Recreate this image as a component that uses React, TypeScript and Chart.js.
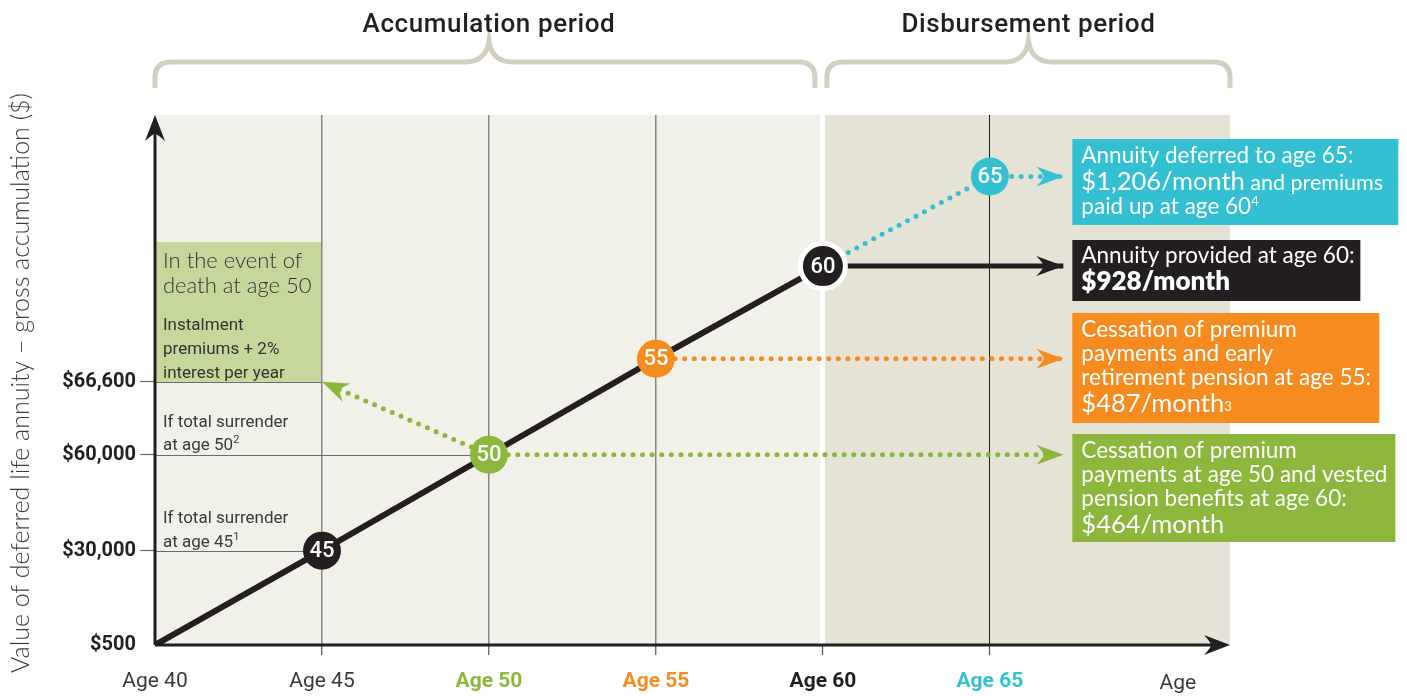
import React, { useEffect, useRef } from 'react';
import { Chart, registerables } from 'chart.js';

Chart.register(...registerables);

// ---------------- data ----------------
const lineAges = [40, 45, 50, 55, 60];
const lineValues = [500, 30000, 60000, 90000, 119000];

const milestoneAges = [45, 50, 55, 60, 65];
const milestoneValues = [30000, 60000, 90000, 119000, 147000];
const milestoneLabels = ['45', '50', '55', '60', '65'];

const xTickValues = [40, 45, 50, 55, 60, 65];
const xTickLabels = ['Age 40', 'Age 45', 'Age 50', 'Age 55', 'Age 60', 'Age 65'];
const yTickValues = [500, 30000, 60000, 82800];
const yTickLabels = ['$500', '$30,000', '$60,000', '$66,600'];

const arrowEndAge = 67.2;
const deathAges = [50, 45];
const deathValues = [60000, 82800];
const vestedAges = [50, arrowEndAge];
const vestedValues = [60000, 60000];
const earlyAges = [55, arrowEndAge];
const earlyValues = [90000, 90000];
const deferredAges = [60, 65, arrowEndAge];
const deferredValues = [119000, 147000, 147000];
const providedAges = [60, arrowEndAge];
const providedValues = [119000, 119000];

const deathBoxTopValue = 126500;
const disbursementStartAge = 60;
const xAxisTitle = 'Age';
const xAxisTitleAge = 70.63;
const yAxisTitle = 'Value of deferred life annuity \u2013 gross accumulation ($)';

// ---------------- styling ----------------
const BLACK = '#231f20';
const GREEN = '#8cb63c';
const ORANGE = '#f68b1f';
const CYAN = '#34c0d3';
const GREY_TXT = '#3a3a3a';
const COND = 'Roboto, "Liberation Sans", sans-serif';
const BODY = 'Lato, "Open Sans", sans-serif';

const milestoneColors = [BLACK, GREEN, ORANGE, BLACK, CYAN];
const xTickColors = [GREY_TXT, GREY_TXT, GREEN, ORANGE, BLACK, CYAN];

const pts = (xs: number[], ys: number[]) => xs.map((x, i) => ({ x, y: ys[i] }));

type Run = { t: string; f: string; dy?: number };

function runs(ctx: CanvasRenderingContext2D, x: number, y: number, list: Run[], color: string) {
  ctx.fillStyle = color;
  ctx.textAlign = 'left';
  ctx.textBaseline = 'alphabetic';
  let cx = x;
  for (const r of list) {
    ctx.font = r.f;
    ctx.fillText(r.t, cx, y + (r.dy || 0));
    cx += ctx.measureText(r.t).width;
  }
}

function arrowHead(ctx: CanvasRenderingContext2D, x: number, y: number, ang: number, len: number, hw: number, color: string) {
  ctx.save();
  ctx.translate(x, y);
  ctx.rotate(ang);
  ctx.beginPath();
  ctx.moveTo(0, 0);
  ctx.lineTo(-len, -hw);
  ctx.quadraticCurveTo(-len * 0.75, -hw * 0.3, -len * 0.72, 0);
  ctx.quadraticCurveTo(-len * 0.75, hw * 0.3, -len, hw);
  ctx.closePath();
  ctx.fillStyle = color;
  ctx.fill();
  ctx.restore();
}

function brace(ctx: CanvasRenderingContext2D, x1: number, x2: number, xm: number) {
  const yb = 88, ybar = 62, ytip = 41, r = 16;
  ctx.beginPath();
  ctx.moveTo(x1, yb);
  ctx.lineTo(x1, ybar + r);
  ctx.quadraticCurveTo(x1, ybar, x1 + r, ybar);
  ctx.lineTo(xm - 24, ybar);
  ctx.quadraticCurveTo(xm - 3, ybar, xm, ytip);
  ctx.quadraticCurveTo(xm + 3, ybar, xm + 24, ybar);
  ctx.lineTo(x2 - r, ybar);
  ctx.quadraticCurveTo(x2, ybar, x2, ybar + r);
  ctx.lineTo(x2, yb);
  ctx.stroke();
}

const annotate = {
  id: 'annotate',
  beforeDraw(chart: any) {
    const { ctx, chartArea: a, scales } = chart;
    const x = scales.x, y = scales.y;
    ctx.save();
    ctx.fillStyle = '#ffffff';
    ctx.fillRect(0, 0, chart.width, chart.height);
    const x60 = x.getPixelForValue(disbursementStartAge);
    ctx.fillStyle = '#f1f0e9';
    ctx.fillRect(a.left, a.top, x60 - a.left, a.bottom - a.top);
    ctx.fillStyle = '#e5e2d6';
    ctx.fillRect(x60, a.top, a.right - x60, a.bottom - a.top);
    // death benefit panel
    const bTop = y.getPixelForValue(deathBoxTopValue);
    const bBot = y.getPixelForValue(82800);
    const bRight = x.getPixelForValue(45);
    ctx.fillStyle = '#c6d79b';
    ctx.fillRect(a.left, bTop, bRight - a.left, bBot - bTop);
    // braces
    ctx.strokeStyle = '#d3cfbf';
    ctx.lineWidth = 5;
    brace(ctx, a.left, x60 - 8, x.getPixelForValue(50));
    brace(ctx, x60 + 4, a.right, (x60 + 4 + a.right) / 2);
    // titles
    ctx.fillStyle = BLACK;
    ctx.font = `500 26px ${COND}`;
    (ctx as any).letterSpacing = '0.6px';
    ctx.textAlign = 'center';
    ctx.textBaseline = 'alphabetic';
    ctx.fillText('Accumulation period', x.getPixelForValue(50), 32);
    ctx.fillText('Disbursement period', (x60 + 4 + a.right) / 2, 32);
    (ctx as any).letterSpacing = '0px';
    // y axis title
    ctx.save();
    ctx.translate(21, 383);
    ctx.rotate(-Math.PI / 2);
    ctx.font = `300 25px ${BODY}`;
    ctx.fillStyle = '#3d3d3d';
    ctx.textBaseline = 'middle';
    ctx.fillText(yAxisTitle, 0, 0);
    ctx.restore();
    // x axis title
    ctx.font = `400 21px ${COND}`;
    ctx.fillStyle = GREY_TXT;
    ctx.fillText(xAxisTitle, x.getPixelForValue(xAxisTitleAge), 689);
    ctx.restore();
  },
  beforeDatasetsDraw(chart: any) {
    const { ctx, chartArea: a, scales } = chart;
    const x = scales.x, y = scales.y;
    ctx.save();
    // partial horizontal reference lines
    ctx.strokeStyle = '#6b6b6b';
    ctx.lineWidth = 1.2;
    const hl = [[30000, 45], [60000, 50], [82800, 45]];
    for (const [v, age] of hl) {
      const py = Math.round(y.getPixelForValue(v)) + 0.5;
      ctx.beginPath();
      ctx.moveTo(a.left, py);
      ctx.lineTo(x.getPixelForValue(age), py);
      ctx.stroke();
    }
    // axes
    ctx.strokeStyle = BLACK;
    ctx.lineWidth = 3;
    ctx.beginPath();
    ctx.moveTo(a.left, a.bottom);
    ctx.lineTo(a.left, a.top + 15);
    ctx.moveTo(a.left, a.bottom);
    ctx.lineTo(a.right - 15, a.bottom);
    ctx.stroke();
    arrowHead(ctx, a.left, a.top, -Math.PI / 2, 26, 10, BLACK);
    arrowHead(ctx, a.right, a.bottom, 0, 26, 10, BLACK);
    // panel texts
    const L = a.left + 8;
    const lf = `300 22px ${BODY}`;
    runs(ctx, L, 268, [{ t: 'In the event of', f: lf }], '#333333');
    runs(ctx, L, 293, [{ t: 'death at age 50', f: lf }], '#333333');
    const cf = `400 17px ${COND}`;
    runs(ctx, L, 330, [{ t: 'Instalment', f: cf }], '#333333');
    runs(ctx, L, 354, [{ t: 'premiums + 2%', f: cf }], '#333333');
    runs(ctx, L, 378, [{ t: 'interest per year', f: cf }], '#333333');
    runs(ctx, L, 427, [{ t: 'If total surrender', f: cf }], GREY_TXT);
    runs(ctx, L, 450, [{ t: 'at age 50', f: cf }, { t: '2', f: `400 11px ${COND}`, dy: -7 }], GREY_TXT);
    runs(ctx, L, 523, [{ t: 'If total surrender', f: cf }], GREY_TXT);
    runs(ctx, L, 547, [{ t: 'at age 45', f: cf }, { t: '1', f: `400 11px ${COND}`, dy: -7 }], GREY_TXT);
    ctx.restore();
  },
  afterDatasetsDraw(chart: any) {
    const { ctx, scales } = chart;
    const x = scales.x, y = scales.y;
    ctx.save();
    // arrowheads on the ends of the path datasets
    chart.data.datasets.forEach((ds: any) => {
      if (!ds.arrowColor) return;
      const d = ds.data;
      const p1 = d[d.length - 2], p2 = d[d.length - 1];
      const x1 = x.getPixelForValue(p1.x), y1 = y.getPixelForValue(p1.y);
      const x2 = x.getPixelForValue(p2.x), y2 = y.getPixelForValue(p2.y);
      arrowHead(ctx, x2, y2, Math.atan2(y2 - y1, x2 - x1), 27, 10, ds.arrowColor);
    });
    // milestone labels
    const meta = chart.getDatasetMeta(0);
    ctx.fillStyle = '#ffffff';
    ctx.font = `500 22px ${COND}`;
    ctx.textAlign = 'center';
    ctx.textBaseline = 'middle';
    meta.data.forEach((el: any, i: number) => {
      ctx.fillText(milestoneLabels[i], el.x, el.y + 1);
    });
    // callout boxes
    const bx = x.getPixelForValue(arrowEndAge) + 9;
    const tx = bx + 9;
    const f21 = `400 22.5px ${BODY}`;
    const f25 = `400 25.5px ${BODY}`;
    const sup = `400 13px ${BODY}`;
    ctx.fillStyle = CYAN;
    ctx.fillRect(bx, 139, 326, 86);
    runs(ctx, tx, 163, [{ t: 'Annuity deferred to age 65:', f: f21 }], '#fff');
    runs(ctx, tx, 190, [{ t: '$1,206/month', f: f25 }, { t: ' and premiums', f: `400 21.5px ${BODY}` }], '#fff');
    runs(ctx, tx, 214, [{ t: 'paid up at age 60', f: f21 }, { t: '4', f: sup, dy: -8 }], '#fff');
    ctx.fillStyle = BLACK;
    ctx.fillRect(bx, 240, 288, 61);
    runs(ctx, tx, 263, [{ t: 'Annuity provided at age 60:', f: f21 }], '#fff');
    runs(ctx, tx, 290, [{ t: '$928/month', f: `800 26px ${BODY}` }], '#fff');
    ctx.fillStyle = ORANGE;
    ctx.fillRect(bx, 313, 307, 110);
    runs(ctx, tx, 337, [{ t: 'Cessation of premium', f: f21 }], '#fff');
    runs(ctx, tx, 361, [{ t: 'payments and early', f: f21 }], '#fff');
    runs(ctx, tx, 385, [{ t: 'retirement pension at age 55:', f: f21 }], '#fff');
    runs(ctx, tx, 412, [{ t: '$487/month', f: f25 }, { t: '3', f: sup, dy: -1 }], '#fff');
    ctx.fillStyle = GREEN;
    ctx.fillRect(bx, 434, 323, 108);
    runs(ctx, tx, 458, [{ t: 'Cessation of premium', f: f21 }], '#fff');
    runs(ctx, tx, 482, [{ t: 'payments at age 50 and vested', f: f21 }], '#fff');
    runs(ctx, tx, 506, [{ t: 'pension benefits at age 60:', f: f21 }], '#fff');
    runs(ctx, tx, 533, [{ t: '$464/month', f: f25 }], '#fff');
    ctx.restore();
  },
};

const dotted = (data: any[], color: string) => ({
  data,
  borderColor: color,
  borderWidth: 5,
  borderDash: [0, 9.6],
  borderCapStyle: 'round',
  pointRadius: 0,
  fill: false,
  tension: 0,
  order: 3,
  arrowColor: color,
});

export default function App() {
  const ref = useRef<HTMLCanvasElement | null>(null);
  useEffect(() => {
    if (!ref.current) return;
    const chart = new Chart(ref.current, {
      type: 'line',
      data: {
        datasets: [
          {
            data: pts(milestoneAges, milestoneValues),
            showLine: false,
            pointRadius: [19, 19, 19, 22.5, 19],
            pointBackgroundColor: milestoneColors,
            pointBorderColor: '#ffffff',
            pointBorderWidth: [0, 0, 0, 5, 0],
            order: 0,
          } as any,
          {
            data: pts(lineAges, lineValues),
            borderColor: BLACK,
            borderWidth: 6,
            pointRadius: 0,
            borderCapStyle: 'round',
            order: 1,
          },
          {
            data: pts(providedAges, providedValues),
            borderColor: BLACK,
            borderWidth: 5,
            pointRadius: 0,
            order: 2,
            arrowColor: BLACK,
          } as any,
          dotted(pts(deathAges, deathValues), GREEN),
          dotted(pts(vestedAges, vestedValues), GREEN),
          dotted(pts(earlyAges, earlyValues), ORANGE),
          dotted(pts(deferredAges, deferredValues), CYAN),
        ],
      },
      options: {
        responsive: false,
        animation: false,
        events: [],
        layout: { padding: { top: 115, right: 177, left: 0, bottom: 0 } },
        plugins: { legend: { display: false }, tooltip: { enabled: false } },
        scales: {
          x: {
            type: 'linear',
            min: 40,
            max: 72.19,
            afterBuildTicks: (s: any) => { s.ticks = xTickValues.map((v) => ({ value: v })); },
            afterFit: (s: any) => { s.height = 51; },
            border: { display: false },
            grid: {
              color: (c: any) => {
                const v = c.tick && c.tick.value;
                if (v === 40) return 'rgba(0,0,0,0)';
                if (v === 60) return '#ffffff';
                if (v === 65) return BLACK;
                return '#858585';
              },
              lineWidth: (c: any) => {
                const v = c.tick && c.tick.value;
                if (v === 60) return 5;
                if (v === 65) return 1;
                return 1.5;
              },
              tickColor: (c: any) => (c.tick && c.tick.value === 40 ? 'rgba(0,0,0,0)' : '#555555'),
              tickWidth: 1.2,
              tickLength: 10,
            },
            ticks: {
              autoSkip: false,
              maxRotation: 0,
              minRotation: 0,
              padding: 14,
              callback: (v: any) => xTickLabels[xTickValues.indexOf(Number(v))],
              color: (c: any) => xTickColors[c.index],
              font: (c: any) => ({ family: COND, size: 21, weight: c.index >= 2 ? 'bold' : 'normal' }),
            },
          },
          y: {
            type: 'linear',
            min: 500,
            max: 166250,
            afterBuildTicks: (s: any) => { s.ticks = yTickValues.map((v) => ({ value: v })); },
            afterFit: (s: any) => { s.width = 155; },
            border: { display: false },
            grid: {
              drawOnChartArea: false,
              tickLength: 15,
              tickWidth: 1.2,
              tickColor: (c: any) => (c.tick && c.tick.value === 500 ? 'rgba(0,0,0,0)' : '#6b6b6b'),
            },
            ticks: {
              padding: 4,
              callback: (v: any) => yTickLabels[yTickValues.indexOf(Number(v))],
              color: BLACK,
              font: { family: COND, size: 20, weight: 'bold' },
            },
          },
        },
      },
      plugins: [annotate],
    } as any);
    return () => chart.destroy();
  }, []);
  return (
    <div style={{ position: 'fixed', left: 0, top: 0, width: 1407, height: 696, background: '#fff' }}>
      <canvas ref={ref} width={1407} height={696} style={{ display: 'block', width: 1407, height: 696 }} />
    </div>
  );
}
